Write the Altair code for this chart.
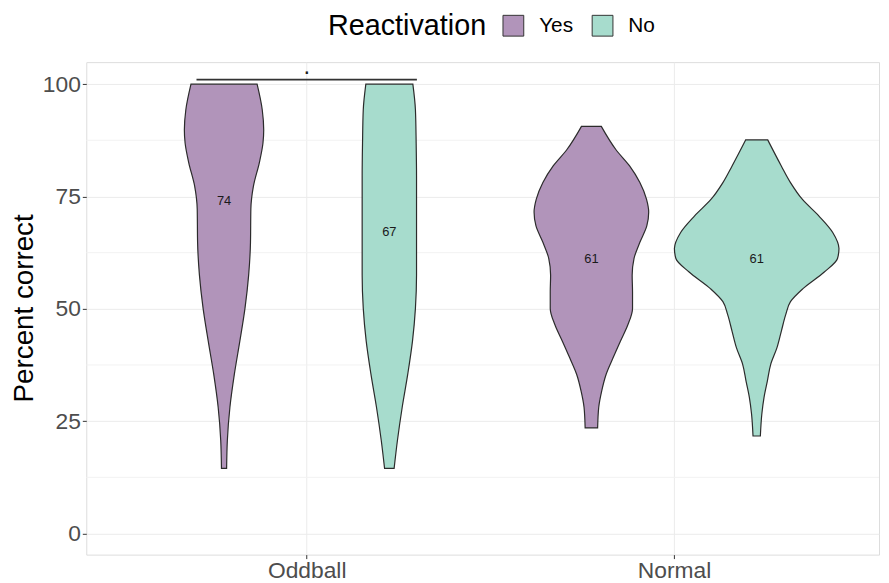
import altair as alt
import pandas as pd

# ---------------- data ----------------
categories = ["Oddball", "Normal"]
reactivation = ["Yes", "No"]

# violin outlines: percent correct and half-width of the density (in category units)
oddball_yes_pct = [14.5, 20.7, 28.1, 35.4, 42.8, 50.1, 57.5, 64.8, 72.2, 77.3, 82.5, 86.9, 89.8, 94.3, 100.0]
oddball_yes_w = [0.007, 0.009, 0.016, 0.028, 0.043, 0.057, 0.067, 0.072, 0.073, 0.080, 0.096, 0.106, 0.108, 0.104, 0.090]

oddball_no_pct = [14.5, 20.7, 28.1, 35.4, 42.8, 50.1, 57.5, 64.8, 72.2, 79.6, 86.9, 94.3, 100.0]
oddball_no_w = [0.013, 0.022, 0.035, 0.050, 0.063, 0.071, 0.074, 0.074, 0.074, 0.074, 0.073, 0.071, 0.064]

normal_yes_pct = [23.5, 28.1, 31.7, 35.4, 39.1, 42.8, 46.4, 50.1, 53.8, 57.5, 61.2, 64.8, 68.5, 71.5, 74.4, 78.1, 81.8, 85.4, 90.6]
normal_yes_w = [0.017, 0.020, 0.028, 0.040, 0.059, 0.079, 0.099, 0.112, 0.112, 0.111, 0.116, 0.132, 0.151, 0.156, 0.150, 0.132, 0.104, 0.067, 0.027]

normal_no_pct = [21.7, 26.6, 30.3, 33.9, 37.6, 41.3, 45.0, 48.7, 51.6, 54.5, 58.2, 61.2, 63.4, 67.0, 70.7, 74.4, 78.1, 81.8, 87.6]
normal_no_w = [0.010, 0.014, 0.020, 0.029, 0.038, 0.055, 0.067, 0.079, 0.092, 0.126, 0.184, 0.220, 0.224, 0.207, 0.169, 0.124, 0.092, 0.067, 0.030]

# median labels (category, group, value)
label_cat = ["Oddball", "Oddball", "Normal", "Normal"]
label_grp = ["Yes", "No", "Yes", "No"]
label_val = [74, 67, 61, 61]

# significance annotation (ggsignif-style)
sig_xmin = [0.7]
sig_xmax = [1.3]
sig_y = [101.0]
sig_text = ["."]
sig_text_x = [1.0]
sig_text_y = [102.35]

# grid breaks
major_breaks = [0, 25, 50, 75, 100]
minor_breaks = [12.5, 37.5, 62.5, 87.5]

# ---------------- build tables ----------------
DODGE = 0.225
cat_pos = {c: i + 1 for i, c in enumerate(categories)}
grp_off = {"Yes": -DODGE, "No": DODGE}

violins = [
    ("Oddball", "Yes", oddball_yes_pct, oddball_yes_w),
    ("Oddball", "No", oddball_no_pct, oddball_no_w),
    ("Normal", "Yes", normal_yes_pct, normal_yes_w),
    ("Normal", "No", normal_no_pct, normal_no_w),
]
rows = []
for cat, grp, ys, ws in violins:
    centre = cat_pos[cat] + grp_off[grp]
    for yv, wv in zip(ys, ws):
        rows.append({"cond": cat, "Reactivation": grp, "grp": f"{cat}-{grp}",
                     "pct": yv, "lo": centre - wv, "hi": centre + wv})
vdf = pd.DataFrame(rows)

ldf = pd.DataFrame({
    "cond": label_cat, "Reactivation": label_grp, "val": label_val,
    "x": [cat_pos[c] + grp_off[g] for c, g in zip(label_cat, label_grp)],
})

sig_df = pd.DataFrame({"x": sig_xmin, "x2": sig_xmax, "y": sig_y})
sig_t_df = pd.DataFrame({"x": sig_text_x, "y": sig_text_y, "t": sig_text})
minor_df = pd.DataFrame({"y": minor_breaks})

FONT = "Liberation Sans"
LEFT, TOP = 79, 52
xscale = alt.Scale(domain=[0.4, 2.558], nice=False, zero=False)
yscale = alt.Scale(domain=[-4.7, 104.9], nice=False, zero=False)

label_expr = " : ".join(
    [f"datum.value == {cat_pos[c]} ? '{c}'" for c in categories]) + " : ''"

x_axis = alt.Axis(values=[cat_pos[c] for c in categories], labelExpr=label_expr,
                  title=None, labelFontSize=23, labelColor="#4D4D4D", labelFont=FONT,
                  tickColor="#333333", tickSize=4, domain=False,
                  gridColor="#EBEBEB", gridWidth=1, labelPadding=1)
y_axis = alt.Axis(values=major_breaks, title="Percent correct", titleFontSize=28,
                  titleFontWeight="normal", titleColor="black", titleFont=FONT,
                  titleX=-54, titleY=248, titleAngle=270, titleBaseline="alphabetic",
                  titleAlign="center",
                  labelFontSize=23, labelColor="#4D4D4D", labelFont=FONT,
                  tickColor="#333333", tickSize=4, domain=False,
                  gridColor="#EBEBEB", gridWidth=1, labelPadding=2)

minor = alt.Chart(minor_df).mark_rule(color="#F2F2F2", strokeWidth=1).encode(
    y=alt.Y("y:Q", scale=yscale, axis=y_axis),
)

color_scale = alt.Scale(domain=reactivation, range=["#B194BA", "#A7DCCD"])

area = alt.Chart(vdf).mark_area(
    orient="horizontal", interpolate="monotone", stroke="#2B2B2B",
    strokeWidth=1.2, opacity=1, fillOpacity=1,
).encode(
    y=alt.Y("pct:Q", scale=yscale, axis=y_axis),
    x=alt.X("lo:Q", scale=xscale, axis=x_axis, stack=None),
    x2="hi:Q",
    color=alt.Color("Reactivation:N", scale=color_scale, sort=reactivation,
                    legend=alt.Legend(
                        orient="none", legendX=323 - LEFT, legendY=4 - TOP,
                        direction="horizontal",
                        titleOrient="left", title="Reactivation", titleFontSize=29,
                        titleFontWeight="normal", titleColor="black", titleFont=FONT,
                        titleBaseline="middle", titlePadding=16,
                        labelFontSize=21, labelColor="black", labelFont=FONT,
                        symbolType="square", symbolSize=440,
                        symbolStrokeColor="#333333", symbolStrokeWidth=1,
                        symbolOpacity=1, columnPadding=16, labelOffset=15)),
    detail="grp:N",
)

labels = alt.Chart(ldf).mark_text(fontSize=13, color="#1A1A1A", font=FONT,
                                  baseline="middle").encode(
    x=alt.X("x:Q", scale=xscale),
    y=alt.Y("val:Q", scale=yscale),
    text="val:Q",
)

sig_line = alt.Chart(sig_df).mark_rule(color="#333333", strokeWidth=1.6).encode(
    x=alt.X("x:Q", scale=xscale), x2="x2:Q", y=alt.Y("y:Q", scale=yscale),
)
sig_txt = alt.Chart(sig_t_df).mark_text(fontSize=24, color="#1A1A1A", font=FONT,
                                        baseline="alphabetic").encode(
    x=alt.X("x:Q", scale=xscale), y=alt.Y("y:Q", scale=yscale), text="t:N",
)

chart = alt.layer(minor, area, labels, sig_line, sig_txt).properties(
    width=800, height=497,
    autosize=alt.AutoSizeParams(type="none"),
    padding={"left": LEFT, "top": TOP, "right": 2, "bottom": 26},
).configure_view(stroke="#8A8A8A", strokeWidth=1).configure(background="white")

chart.save("out.html", embed_options={"renderer": "svg", "actions": False})
